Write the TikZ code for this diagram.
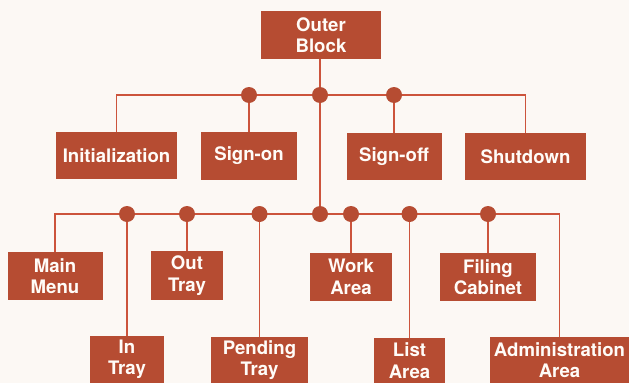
\documentclass[tikz,border=0pt]{standalone}
\usepackage{fontspec}
\setmainfont{TeX Gyre Heros}
\definecolor{bg}{RGB}{252,248,244}
\definecolor{brick}{RGB}{182,76,50}
\definecolor{wirec}{RGB}{204,84,60}
\definecolor{txt}{RGB}{255,252,248}
\begin{document}
\begin{tikzpicture}[x=1pt,y=-1pt,
  box/.style={fill=brick, text=txt, font=\fontsize{18.6}{21.5}\selectfont\bfseries, align=center, inner sep=0pt, minimum height=48pt},
  wire/.style={draw=wirec, line width=1.3pt},
  dot/.style={circle, fill=brick, inner sep=0pt, minimum size=16pt}]
\fill[bg] (0,0) rectangle (629,383);
\useasboundingbox (0,0) rectangle (629,383);
% nodes
\node[box, minimum width=120pt] (outer) at (321,35) {Outer\\Block};
\node[box, minimum width=121pt, minimum height=47pt] (init) at (116.5,155.5) {Initialization};
\node[box, minimum width=96pt] (son) at (249,156) {Sign-on};
\node[box, minimum width=95pt, minimum height=47pt] (soff) at (394,156.5) {Sign-off};
\node[box, minimum width=121pt, minimum height=47pt] (shut) at (525.5,156.5) {Shutdown};
\node[box, minimum width=95pt] (menu) at (55,276) {Main\\Menu};
\node[box, minimum width=72pt, minimum height=49pt] (otray) at (187,275.5) {Out\\Tray};
\node[box, minimum width=82pt] (work) at (351,277) {Work\\Area};
\node[box, minimum width=96pt] (filing) at (488,277) {Filing\\Cabinet};
\node[box, minimum width=74pt, minimum height=47pt] (intray) at (127,359.5) {In\\Tray};
\node[box, minimum width=97pt, minimum height=46pt] (pend) at (259.5,360) {Pending\\Tray};
\node[box, minimum width=71pt, minimum height=45pt] (list) at (409.5,360.5) {List\\Area};
\node[box, minimum width=139pt, minimum height=46pt] (admin) at (559.5,360) {Administration\\Area};
% bus coordinates
\coordinate (tb) at (320,95);
\coordinate (lb) at (320,214);
% wires
\draw[wire] (outer.south -| tb) -- (lb);
\draw[wire] (init.north) |- (tb) -| (shut.north);
\draw[wire] (son.north) -- (son.north |- tb);
\draw[wire] (soff.north) -- (soff.north |- tb);
\draw[wire] (menu.north) |- (lb) -| (admin.north);
\foreach \n in {intray,otray,pend,work,list,filing}
  \draw[wire] (\n.north) -- (\n.north |- lb);
% junction dots
\node[dot] (d1) at (son.north |- tb) {};
\node[dot] (d2) at (tb) {};
\node[dot] (d3) at (soff.north |- tb) {};
\node[dot] (e1) at (intray.north |- lb) {};
\node[dot] (e2) at (otray.north |- lb) {};
\node[dot] (e3) at (pend.north |- lb) {};
\node[dot] (e4) at (lb) {};
\node[dot] (e5) at (work.north |- lb) {};
\node[dot] (e6) at (list.north |- lb) {};
\node[dot] (e7) at (filing.north |- lb) {};
\end{tikzpicture}
\end{document}
